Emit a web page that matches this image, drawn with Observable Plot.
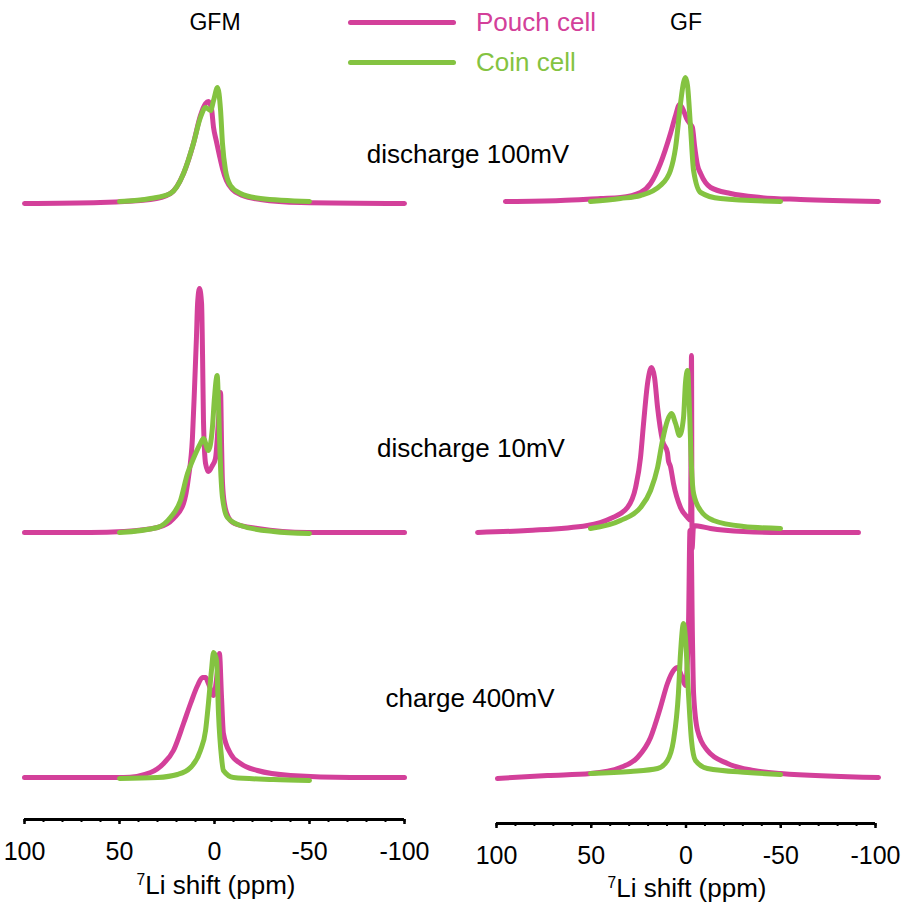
<!DOCTYPE html>
<html><head><meta charset="utf-8">
<script src="https://cdn.jsdelivr.net/npm/d3@7"></script>
<script src="https://cdn.jsdelivr.net/npm/@observablehq/plot@0.6"></script>
<style>
body{margin:0;background:#fff;}
#wrap{position:relative;width:907px;height:902px;overflow:hidden;font-family:"Liberation Sans",Arial,sans-serif;color:#000;}
.abs{position:absolute;white-space:nowrap;line-height:1;}
.c{transform:translateX(-50%);}
.sw{position:absolute;height:5px;border-radius:2.5px;}
#p0,#p1{position:absolute;top:0;}
sup{font-size:0.6em;vertical-align:0.55em;line-height:0;}
</style></head><body><div id="wrap"><div id="p0"></div><div id="p1"></div></div>
<script>
// ---- categories & labels ----
const panels = ["GFM", "GF"];
const rows = ["discharge 100mV", "discharge 10mV", "charge 400mV"];
const cells = ["Pouch cell", "Coin cell"];
const cellColors = ["#d3409a", "#84c341"];
const majorTicks = [100, 50, 0, -50, -100];
const minorTicks = [100, 90, 80, 70, 60, 50, 40, 30, 20, 10, 0, -10, -20, -30, -40, -50, -60, -70, -80, -90, -100];
const axisTitle = "Li shift (ppm)";
const rowOffset = [574, 245, 0]; // stacking offset of each row (intensity units)

// ---- spectra: [shift ppm, intensity] ----
const GFM_100_pouch = [[100,0],[60,1],[33.7,4],[23.2,10],[16.3,30],[11.1,60],[7.4,88],[4.7,100],[3.2,102],[1.6,95],[0.5,76],[-0.9,63],[-2.6,48],[-4.2,35],[-6.3,23],[-9.5,14],[-14.7,8],[-24.2,4],[-45.3,1],[-100,0]];
const GFM_100_coin = [[50,2],[33.7,5],[23.2,10],[16.3,30],[11.1,60],[7.4,86],[4.7,96],[2.1,93],[0.5,103],[-1.6,116],[-3.2,93],[-4.2,60],[-5.8,33],[-8.4,18],[-13.7,10],[-24.2,5],[-50,2]];
const GFM_10_pouch = [[100,0],[65.3,0],[47.9,1],[30,5],[21.6,14],[16.3,29],[13.7,55],[11.6,95],[10.5,145],[9.5,195],[8.9,229],[7.9,244],[6.8,229],[6.3,179],[5.8,112],[4.7,69],[3.2,61],[1.1,67],[-0.5,74],[-2.1,112],[-3.2,140],[-3.7,90],[-4.2,50],[-5.3,28],[-7.4,15],[-10.5,9],[-22.6,4],[-48.9,0],[-100,0]];
const GFM_10_coin = [[50,0],[30,5],[23.2,15],[17.9,32],[14.2,59],[11.1,74],[7.4,89],[5.8,94],[3.2,82],[1.1,105],[0,135],[-1.4,157],[-2.1,129],[-2.9,79],[-4.2,35],[-6.8,15],[-13.7,7],[-31,1],[-50,-1]];
const GFM_400_pouch = [[100,0],[65.3,0],[47.9,0],[33.7,5],[26.8,14],[21.6,27],[16.3,54],[12.6,74],[8.9,92],[6.3,100],[4.7,100],[3.2,94],[0.5,82],[-1.6,107],[-2.6,124],[-3.7,80],[-4.7,44],[-8.4,24],[-13.7,14],[-22.6,7],[-40,2],[-71.6,0],[-100,0]];
const GFM_400_coin = [[50,-1],[30,0],[19.5,3],[12.6,10],[7.4,27],[4.7,47],[3.2,74],[1.6,107],[0.5,125],[-1.1,117],[-2.1,64],[-3.7,20],[-4.7,7],[-10,0],[-31,-2],[-50,-3]];
const GF_100_pouch = [[95.3,2],[66.2,3],[45.1,5],[34.6,6],[24,11],[18.7,20],[13.5,40],[8.2,70],[5.5,88],[3.4,99],[1.3,93],[-0.3,85],[-2.4,79],[-3.4,76],[-4.5,58],[-6.1,38],[-7.7,30],[-13,16],[-23.5,10],[-39.3,6],[-60.4,4],[-101.6,2]];
const GF_100_coin = [[50.4,2],[34.6,5],[24,8],[13.5,18],[8.2,33],[5.5,56],[2.9,100],[1.3,121],[0.3,126],[-0.8,118],[-2.4,76],[-4,33],[-7.7,11],[-18.2,5],[-49.9,2]];
const GF_10_pouch = [[110,0],[83.6,2],[52,7],[39.8,14],[30.9,25],[26.6,45],[24,75],[22.4,109],[20.3,149],[18.2,165],[16.6,155],[15,125],[12.4,92],[9.8,80],[9.3,72],[8.2,66],[6.6,49],[2.9,25],[-0.8,15],[-2.4,12],[-2.9,177],[-3.2,-16],[-4,7],[-12.9,4],[-30.3,1],[-49.9,0],[-91,0]];
const GF_10_coin = [[50.4,4],[34.6,12],[24,25],[18.7,42],[15,65],[12.4,92],[9.8,112],[7.7,119],[5.5,109],[3.4,97],[1.3,115],[0.3,149],[-0.8,162],[-1.8,125],[-2.9,65],[-4,39],[-7.7,22],[-14.5,12],[-30.3,6],[-49.9,4]];
const GF_400_pouch = [[99.5,-1],[73.1,2],[50.4,4],[34.6,10],[25.6,20],[18.7,40],[13.5,70],[9.8,94],[6.6,107],[4.5,110],[2.4,102],[0.3,92],[-1.3,150],[-2.1,247],[-2.6,247],[-3.4,140],[-4,84],[-6.1,47],[-11.3,27],[-21.9,14],[-35.6,7],[-49.9,4],[-101.6,0]];
const GF_400_coin = [[50.4,4],[29.3,6],[15,9],[9.8,17],[6.6,37],[4,84],[2.9,124],[1.3,154],[0.3,140],[-1.3,84],[-2.9,37],[-5,17],[-11.3,9],[-32.5,5],[-49.9,3]];

const spectra = [
  [[GFM_100_pouch, GFM_100_coin], [GFM_10_pouch, GFM_10_coin], [GFM_400_pouch, GFM_400_coin]],
  [[GF_100_pouch, GF_100_coin], [GF_10_pouch, GF_10_coin], [GF_400_pouch, GF_400_coin]]
];

// ---- tidy table built from the arrays ----
const table = [];
spectra.forEach((pan, pi) => pan.forEach((row, ri) => row.forEach((ser, ci) => ser.forEach(([ppm, v]) =>
  table.push({panel: panels[pi], row: rows[ri], cell: cells[ci], key: pi + "-" + ri + "-" + ci, ppm, y: v + rowOffset[ri]})))));

const font = "Liberation Sans, Arial, sans-serif";
function panelPlot(pi, o) {
  const data = table.filter(d => d.panel === panels[pi]);
  return Plot.plot({
    width: o.width, height: 902,
    marginLeft: o.ml, marginRight: o.mr, marginTop: 0, marginBottom: o.mb,
    style: {fontFamily: font, fontSize: "25px", color: "#000", background: "transparent", overflow: "visible"},
    x: {domain: [100, -100], label: null, axis: null},
    y: {domain: [o.ymin, 777], axis: null},
    color: {domain: cells, range: cellColors},
    marks: [
      Plot.line(data, {x: "ppm", y: "y", z: "key", stroke: "cell", strokeWidth: 5, curve: "monotone-x", strokeLinejoin: "round", strokeLinecap: "round"}),
      Plot.ruleY([o.ymin], {x1: 100, x2: -100, stroke: "#000", strokeWidth: 3}),
      Plot.axisX({ticks: minorTicks, tickSize: 3, strokeWidth: 2, tickFormat: () => "", label: null}),
      Plot.axisX({ticks: majorTicks, tickSize: 5, strokeWidth: 2.5, tickPadding: 18, tickFormat: d => String(d), label: null})
    ]
  });
}
const p0 = panelPlot(0, {width: 453, ml: 24, mr: 49, mb: 83, ymin: -42});
const p1 = panelPlot(1, {width: 454, ml: 43, mr: 32, mb: 79, ymin: -46});
document.getElementById("p0").appendChild(p0);
const d1 = document.getElementById("p1"); d1.style.left = "453px"; d1.appendChild(p1);

// ---- text & legend overlays ----
const wrap = document.getElementById("wrap");
function addText(html, x, baseline, size, center, color) {
  const el = document.createElement("div");
  el.className = "abs" + (center ? " c" : "");
  el.style.left = x + "px";
  el.style.top = (baseline - 0.8465 * size) + "px";
  el.style.fontSize = size + "px";
  if (color) el.style.color = color;
  el.innerHTML = html;
  wrap.appendChild(el);
}
addText(panels[0], 215, 30, 23, true);
addText(panels[1], 686, 30, 23, true);
addText(rows[0], 468, 163, 26, true);
addText(rows[1], 471, 457, 26, true);
addText(rows[2], 470, 707, 26, true);
addText("<sup>7</sup>" + axisTitle, 216, 894, 26, true);
addText("<sup>7</sup>" + axisTitle, 687, 897, 26, true);
cells.forEach((c, i) => {
  const sw = document.createElement("div");
  sw.className = "sw";
  sw.style.left = "348px"; sw.style.width = "108px";
  sw.style.top = (19.5 + 40 * i) + "px";
  sw.style.background = cellColors[i];
  wrap.appendChild(sw);
  addText(c, 476, 31 + 40 * i, 26, false, cellColors[i]);
});
</script></body></html>
